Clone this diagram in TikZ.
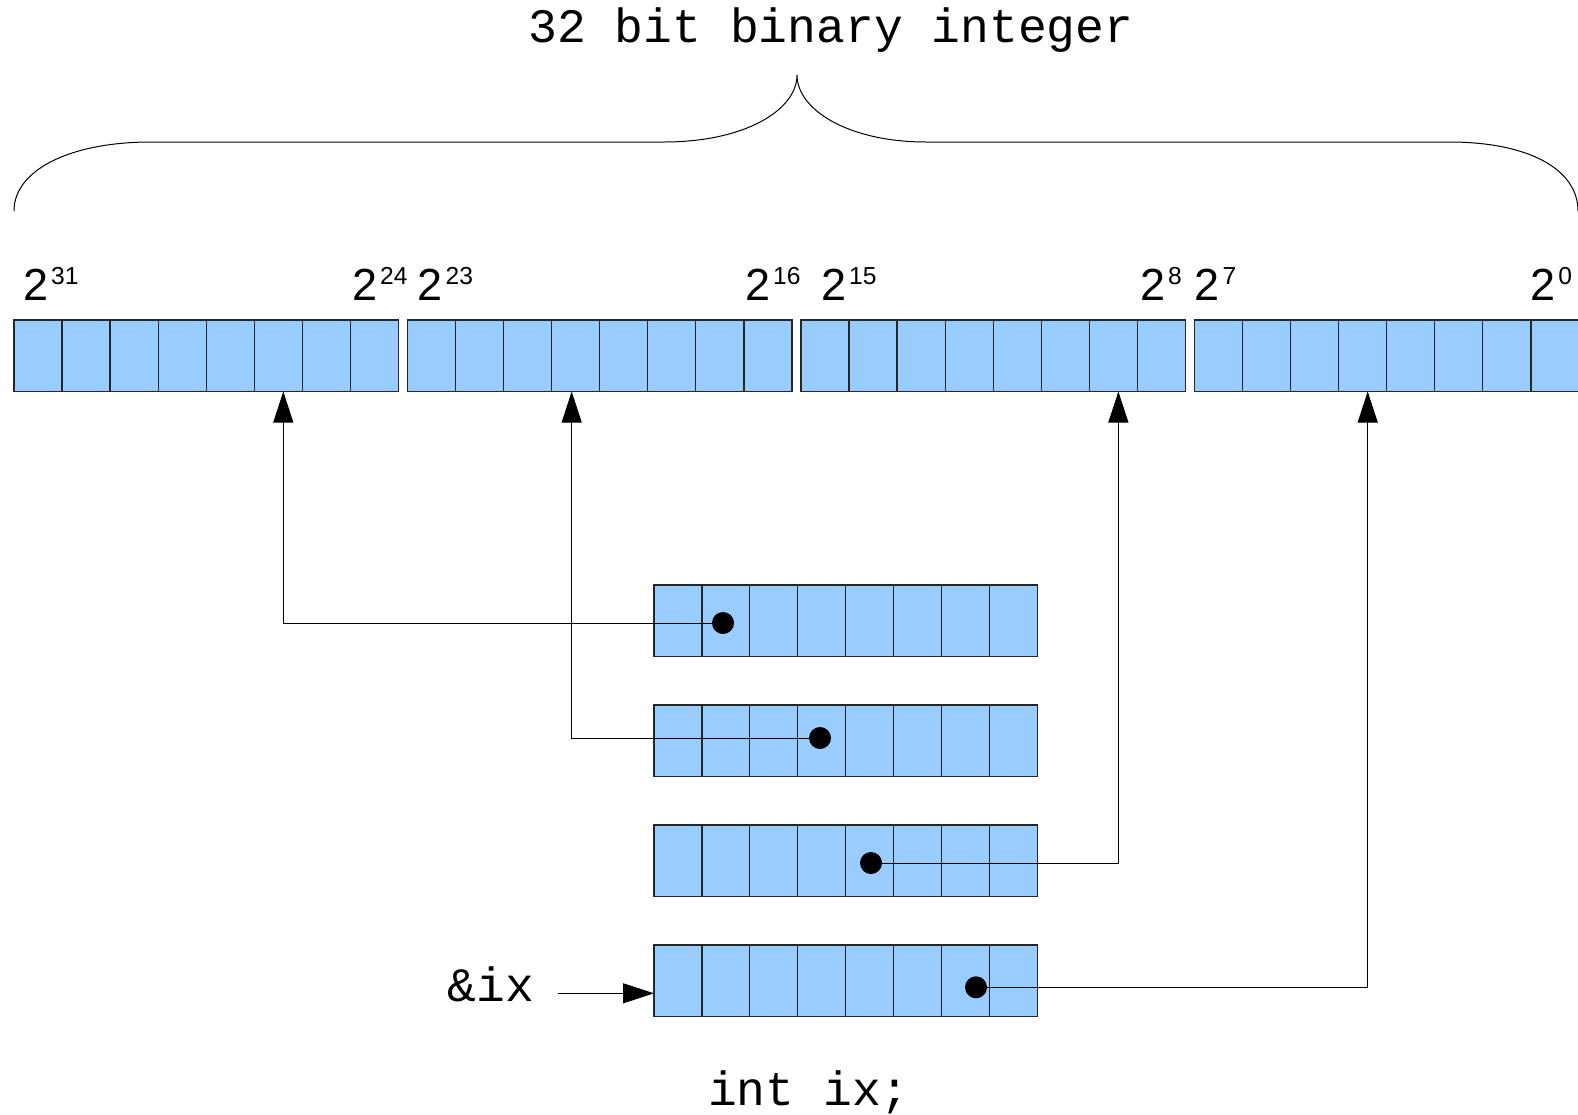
\documentclass[tikz,border=0pt]{standalone}
\usepackage{fontspec}
\setmainfont{Liberation Sans}
\setmonofont{Liberation Mono}
\usetikzlibrary{arrows.meta,positioning,calc}
\definecolor{cellblue}{HTML}{99CCFF}
\newcommand{\pw}[1]{{\fontsize{45}{45}\selectfont 2\kern3pt\raisebox{15.7pt}{\fontsize{24.6}{25}\selectfont #1}}}

\begin{document}
\begin{tikzpicture}[x=1pt, y=-1pt,
  cell/.style={draw=black!85, fill=cellblue, line width=1.2pt, minimum width=48pt,
               minimum height=71.5pt, inner sep=0pt, outer sep=0pt, anchor=north west},
  dot/.style={circle, fill=black, minimum size=22pt, inner sep=0pt},
  code/.style={font=\fontsize{48}{48}\selectfont\ttfamily, inner sep=0pt, anchor=base},
  pow/.style={anchor=base west, inner sep=0pt},
  ar/.style={-{Triangle[length=31pt,width=20pt]}, line width=1pt}
]
\useasboundingbox (0,0) rectangle (1578,1114);

\node[code] (title) at (831,42.7) {32 bit binary integer};
\draw[line width=1pt] (14,211) .. controls (14,170) and (70,142) .. (151,142) -- (664,142)
  .. controls (745,142) and (797,110) .. (797,75)
  .. controls (797,110) and (849,142) .. (926,142) -- (1449,142)
  .. controls (1530,142) and (1578,170) .. (1578,211);

\foreach \g/\gx in {1/14,2/407.5,3/801,4/1194.5}
  \foreach \i in {1,...,8}
    \node[cell] (b\g-\i) at ({\gx+(\i-1)*48.06},320) {};

\node[pow] (p31) at (23,300) {\pw{31}};
\node[pow] (p24) at (352,300) {\pw{24}};
\node[pow] (p23) at (417.5,300) {\pw{23}};
\node[pow] (p16) at (745,300) {\pw{16}};
\node[pow] (p15) at (821,300) {\pw{15}};
\node[pow] (p8) at (1140,300) {\pw{8}};
\node[pow] (p7) at (1194.5,300) {\pw{7}};
\node[pow] (p0) at (1530,300) {\pw{0}};

\foreach \r/\ry in {1/585,2/705,3/825,4/945}
  \foreach \i in {1,...,8}
    \node[cell] (r\r-\i) at ({654+(\i-1)*47.94},\ry) {};

\node[dot] (d1) at (723,623) {};
\node[dot] (d2) at (820,738) {};
\node[dot] (d3) at (871,863) {};
\node[dot] (d4) at (976,987.3) {};

\draw[ar] (d1.center) -| ($(b1-6.south)+(5,0)$);
\draw[ar] (d2.center) -| ($(b2-4.south)+(-4,0)$);
\draw[ar] (d3.center) -| ($(b3-7.south)+(5,0)$);
\draw[ar] (d4.center) -| ($(b4-4.south)+(5,0)$);

\node[code] (addr) at (491,1001.7) {\&ix};
\coordinate (ain) at (557.7,993.3);
\draw[ar] (ain) -- (ain -| r4-1.west);

\node[code] (decl) at (809,1105) {int ix;};
\end{tikzpicture}
\end{document}
